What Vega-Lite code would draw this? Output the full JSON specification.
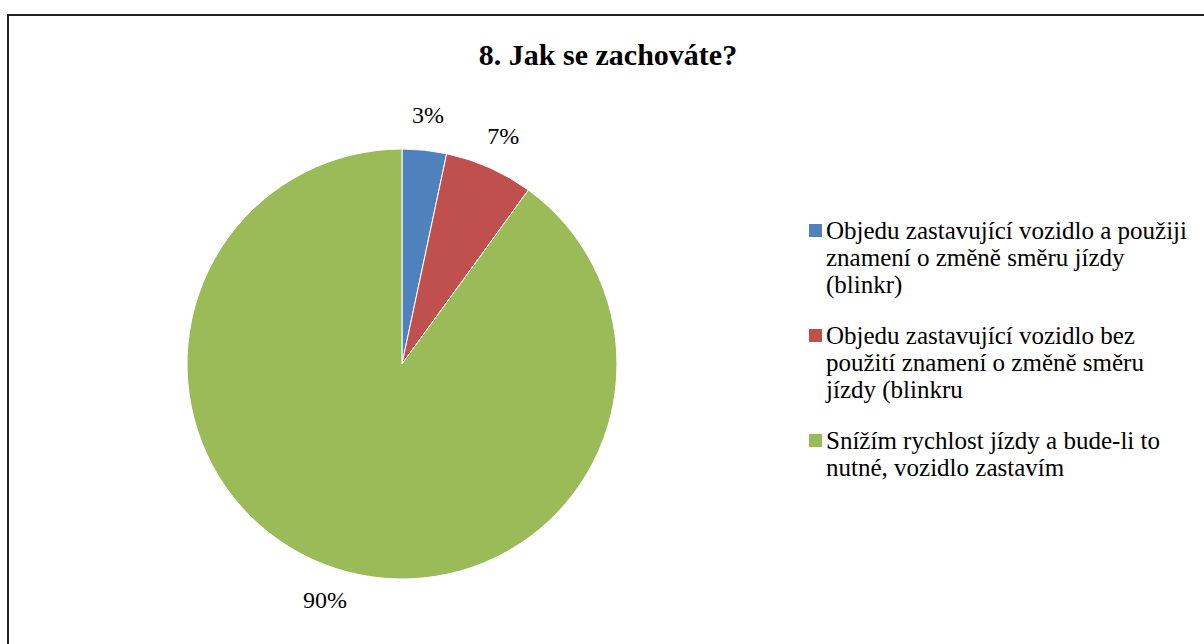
{
  "$schema": "https://vega.github.io/schema/vega-lite/v6.json",
  "autosize": {"type": "none"},
  "width": 1200,
  "height": 640,
  "padding": {"left": 8, "top": 15, "right": 0, "bottom": 0},
  "background": "white",
  "config": {
    "view": {"stroke": "#222222", "strokeWidth": 2},
    "font": "Liberation Serif"
  },
  "title": {
    "text": "8. Jak se zachováte?",
    "font": "Liberation Serif",
    "fontSize": 30,
    "fontWeight": "bold",
    "color": "black",
    "anchor": "middle",
    "frame": "group",
    "baseline": "top",
    "offset": -56
  },
  "data": {
    "values": [
      {"odpoved": "Objedu zastavující vozidlo a použiji znamení o změně směru jízdy (blinkr)", "podil": 3.33, "popisek": "3%", "poradi": 1},
      {"odpoved": "Objedu zastavující vozidlo bez použití znamení o změně směru jízdy (blinkru", "podil": 6.67, "popisek": "7%", "poradi": 2},
      {"odpoved": "Snížím rychlost jízdy a bude-li to nutné, vozidlo zastavím", "podil": 90, "popisek": "90%", "poradi": 3}
    ]
  },
  "encoding": {
    "theta": {"field": "podil", "type": "quantitative", "stack": true},
    "order": {"field": "poradi", "type": "ordinal"},
    "x": {"value": 394},
    "y": {"value": 349}
  },
  "layer": [
    {
      "mark": {"type": "arc", "outerRadius": 215, "stroke": "white", "strokeWidth": 1},
      "encoding": {
        "color": {
          "field": "odpoved",
          "type": "nominal",
          "sort": {"field": "poradi"},
          "scale": {
            "domain": [
              "Objedu zastavující vozidlo a použiji znamení o změně směru jízdy (blinkr)",
              "Objedu zastavující vozidlo bez použití znamení o změně směru jízdy (blinkru",
              "Snížím rychlost jízdy a bude-li to nutné, vozidlo zastavím"
            ],
            "range": ["#4F81BD", "#C0504D", "#9BBB59"]
          },
          "legend": {
            "title": null,
            "orient": "none",
            "legendX": 795,
            "legendY": 203,
            "symbolType": "square",
            "symbolSize": 169,
            "symbolStrokeWidth": 0,
            "symbolOpacity": 1,
            "labelFont": "Liberation Serif",
            "labelFontSize": 25,
            "labelColor": "black",
            "labelLimit": 0,
            "labelOffset": -2,
            "labelBaseline": "middle",
            "labelLineHeight": 30.5,
            "rowPadding": 25,
            "labelExpr": "datum.label == 'Objedu zastavující vozidlo a použiji znamení o změně směru jízdy (blinkr)' ? ['Objedu zastavující vozidlo a použiji', 'znamení o změně směru jízdy', '(blinkr)'] : datum.label == 'Objedu zastavující vozidlo bez použití znamení o změně směru jízdy (blinkru' ? ['Objedu zastavující vozidlo bez', 'použití znamení o změně směru', 'jízdy (blinkru'] : ['Snížím rychlost jízdy a bude-li to', 'nutné, vozidlo zastavím']"
          }
        }
      }
    },
    {
      "mark": {"type": "text", "radius": 249, "font": "Liberation Serif", "fontSize": 24, "color": "black"},
      "encoding": {
        "text": {"field": "popisek", "type": "nominal"}
      }
    }
  ]
}
